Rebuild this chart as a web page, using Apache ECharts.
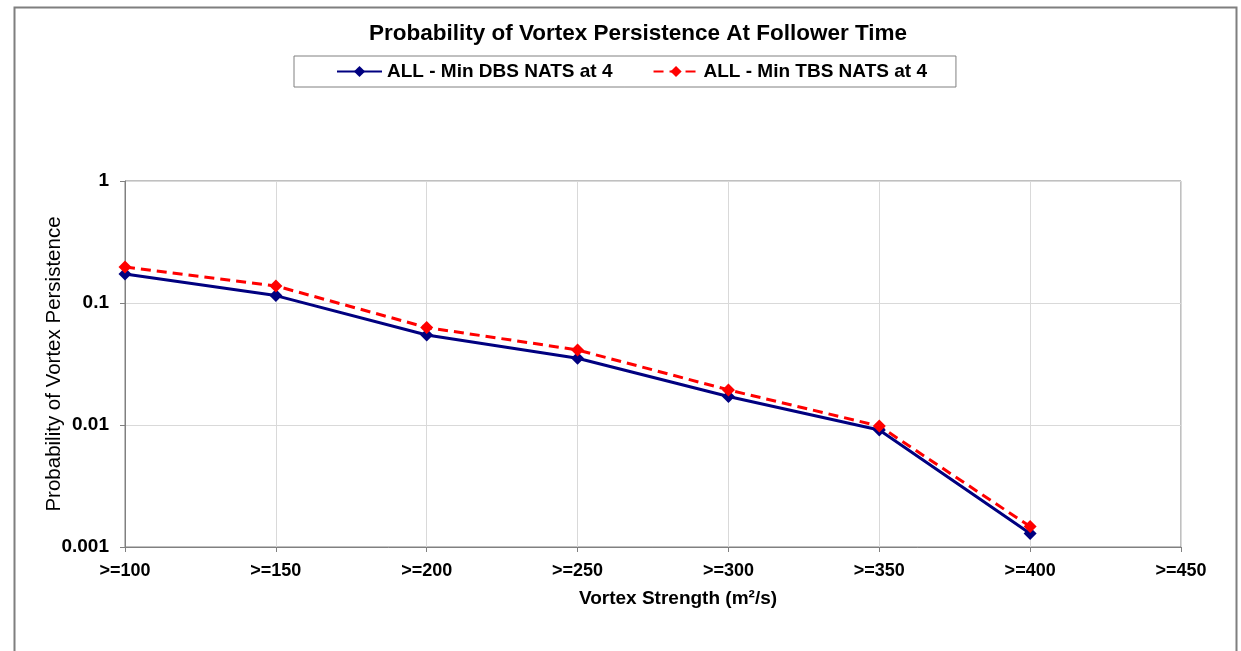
<!DOCTYPE html>
<html>
<head>
<meta charset="utf-8">
<script src="https://cdn.jsdelivr.net/npm/echarts@6/dist/echarts.min.js"></script>
<style>
html,body{margin:0;padding:0;background:#fff;}
#chart{width:1241px;height:651px;}
</style>
</head>
<body>
<div id="chart"></div>
<script>
var categories = ['>=100', '>=150', '>=200', '>=250', '>=300', '>=350', '>=400', '>=450'];
var dbsValues = [0.173, 0.115, 0.0547, 0.0352, 0.0171, 0.0091, 0.00129];
var tbsValues = [0.197, 0.138, 0.063, 0.0412, 0.0194, 0.0098, 0.00147];
var yTickLabels = ['0.001', '0.01', '0.1', '1'];
var seriesNames = ['ALL - Min DBS NATS at 4', 'ALL - Min TBS NATS at 4'];

var chart = echarts.init(document.getElementById('chart'), null, {renderer: 'canvas'});
var font = 'Liberation Sans, Arial, sans-serif';
chart.setOption({
  backgroundColor: '#fff',
  animation: false,
  graphic: [{
    type: 'rect', left: 12, top: 5,
    shape: {width: 1222, height: 660},
    style: {fill: 'none', stroke: '#7f7f7f', lineWidth: 2},
    silent: true, z: -1
  }],
  title: {
    text: 'Probability of Vortex Persistence At Follower Time',
    left: 364, top: 17,
    textStyle: {fontFamily: font, fontWeight: 'bold', fontSize: 22.5, color: '#000'}
  },
  legend: {
    left: 294, top: 56,
    padding: [6, 29, 6, 42],
    borderColor: '#808080', borderWidth: 1,
    itemWidth: 45, itemHeight: 14, itemGap: 40,
    textStyle: {fontFamily: font, fontWeight: 'bold', fontSize: 19, color: '#000'},
    data: seriesNames
  },
  grid: {left: 125, right: 60, top: 181, bottom: 104, show: true, borderColor: '#808080', borderWidth: 1},
  xAxis: {
    type: 'category', data: categories, boundaryGap: false,
    name: 'Vortex Strength (m²/s)', nameLocation: 'middle', nameGap: 42,
    nameMoveOverlap: false,
    nameTextStyle: {fontFamily: font, fontWeight: 'bold', fontSize: 19, color: '#000', padding: [0, 0, 0, 50]},
    axisLine: {lineStyle: {color: '#808080', width: 1}},
    axisTick: {show: true, length: 5, lineStyle: {color: '#808080'}},
    axisLabel: {fontFamily: font, fontWeight: 'bold', fontSize: 18, color: '#000', margin: 15},
    splitLine: {show: true, lineStyle: {color: '#d9d9d9', width: 1}}
  },
  yAxis: {
    type: 'log', logBase: 10, min: 0.001, max: 1,
    name: 'Probability of Vortex Persistence', nameLocation: 'middle', nameGap: 60,
    nameMoveOverlap: false,
    nameTextStyle: {fontFamily: font, fontSize: 20.5, color: '#000'},
    axisLine: {show: true, lineStyle: {color: '#808080', width: 1}},
    axisTick: {show: true, length: 5, lineStyle: {color: '#808080'}},
    axisLabel: {
      fontFamily: font, fontWeight: 'bold', fontSize: 19, color: '#000', margin: 16,
      formatter: function (v) {
        var e = Math.round(Math.log10(v));
        return yTickLabels[e + 3];
      }
    },
    splitLine: {show: true, lineStyle: {color: '#d9d9d9', width: 1}}
  },
  series: [{
    name: seriesNames[0], type: 'line', data: dbsValues,
    symbol: 'diamond', symbolSize: 13,
    lineStyle: {color: '#000080', width: 3},
    itemStyle: {color: '#000080'}
  }, {
    name: seriesNames[1], type: 'line', data: tbsValues,
    symbol: 'diamond', symbolSize: 13,
    lineStyle: {color: '#ff0000', width: 3, type: [10, 6]},
    itemStyle: {color: '#ff0000'}
  }]
});
</script>
</body>
</html>
